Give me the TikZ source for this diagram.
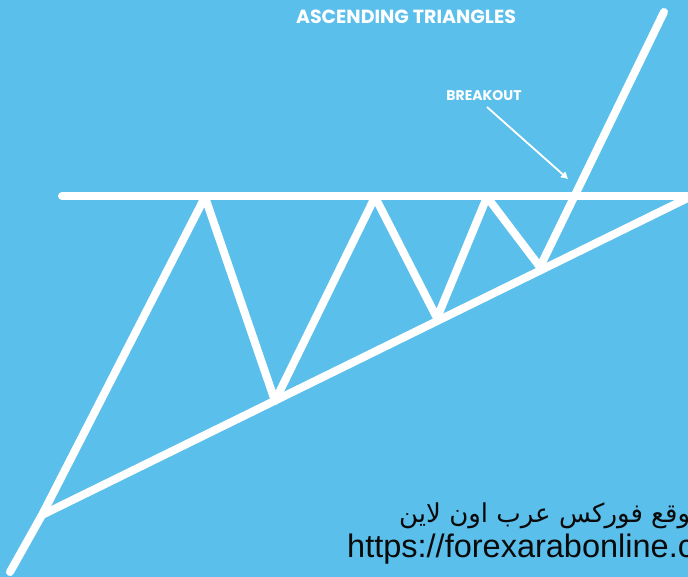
\documentclass[tikz,border=0pt]{standalone}
\usepackage{fontspec}
\setmainfont{Liberation Sans}
\newfontfamily\titlefont{Poppins}
\newfontfamily\arabicfont[Script=Arabic]{DejaVu Sans}
\TeXXeTstate=1
\usetikzlibrary{arrows.meta}
\definecolor{bgblue}{HTML}{5BBFEB}
\definecolor{txtdark}{HTML}{0A0A0A}
\tikzset{
  chartline/.style={draw=white, line width=8pt, line cap=round, line join=round},
  pointerline/.style={draw=white, line width=1.8pt, -{Triangle[width=7pt,length=7pt]}},
  titletext/.style={text=white, font=\titlefont\bfseries\fontsize{19}{21}\selectfont, inner sep=0pt},
  labeltext/.style={text=white, font=\titlefont\bfseries\fontsize{14}{16}\selectfont, inner sep=0pt},
  footertext/.style={text=txtdark, inner sep=0pt}
}
\begin{document}
\begin{tikzpicture}[x=1pt,y=-1pt]
\useasboundingbox (0,0) rectangle (688,577);
\clip (0,0) rectangle (688,577);
\fill[bgblue] (0,0) rectangle (688,577);
% coordinates
\coordinate (r0) at (62,196);
\coordinate (r1) at (700,196);
\coordinate (s0) at (42,515);
\coordinate (s1) at (700,192);
\coordinate (p0) at (10,572);
\coordinate (p1) at (42,515);
\coordinate (p2) at (205,197);
\coordinate (p3) at (275,401);
\coordinate (p4) at (375,197);
\coordinate (p5) at (437,318);
\coordinate (p6) at (487,197);
\coordinate (p7) at (540,267);
\coordinate (p8) at (664,12);
% lines
\draw[chartline] (r0) -- (r1);
\draw[chartline] (s0) -- (s1);
\draw[chartline] (p0) -- (p1) -- (p2) -- (p3) -- (p4) -- (p5) -- (p6) -- (p7) -- (p8);
% texts
\node[titletext] (title) at (406,17) {ASCENDING TRIANGLES};
\node[labeltext] (breakout) at (484,96) {BREAKOUT};
\coordinate (bo) at (568,179);
\draw[pointerline] (487,107) -- (bo);
\node[footertext, anchor=base west, font=\arabicfont\fontsize{26}{30}\selectfont] (ar) at (399,522) {\beginR موقع فوركس عرب اون لاين\endR};
\node[footertext, anchor=base west, font=\fontsize{32.5}{36}\selectfont] (url) at (347,557) {https://forexarabonline.com};
\end{tikzpicture}
\end{document}
